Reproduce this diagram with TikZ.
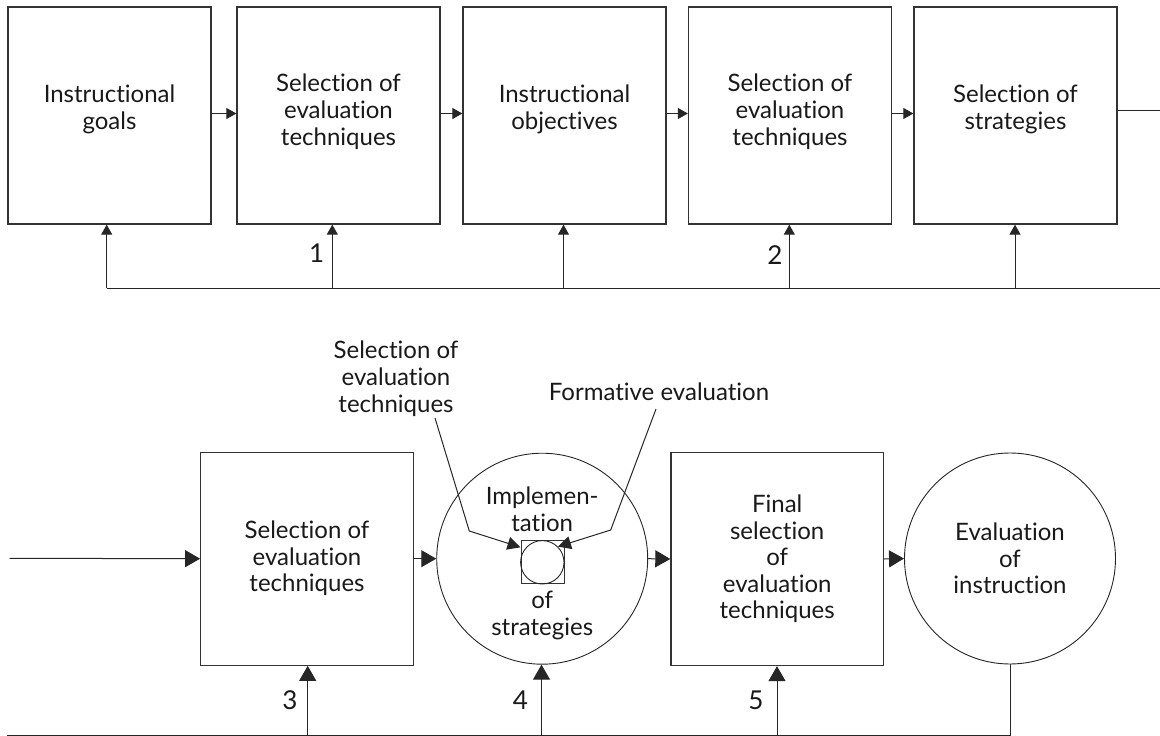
\documentclass[tikz,border=0pt]{standalone}
\usepackage{fontspec}
\setmainfont{Lato}[Ligatures={NoCommon}]
\usetikzlibrary{arrows.meta}
\begin{document}
\begin{tikzpicture}[x=1pt,y=-1pt,
  box/.style={rectangle, draw=black!80, line width=1.3pt, inner sep=0pt},
  topbox/.style={box, minimum width=203pt, minimum height=217pt},
  lowbox/.style={box, minimum width=212.5pt, minimum height=213pt, align=center,
                 font=\fontsize{24}{26.5}\selectfont, text=black!90},
  bigcirc/.style={circle, draw=black!85, line width=0.9pt, minimum size=211pt,
                  inner sep=0pt, align=center, font=\fontsize{24}{26.5}\selectfont, text=black!90},
  txt/.style={align=center, font=\fontsize{24}{27}\selectfont, text=black!90, inner sep=0pt},
  num/.style={font=\fontsize{26}{26}\selectfont, text=black!90, inner sep=0pt},
  conn/.style={line width=1pt, draw=black!85},
  sarrow/.style={conn, -{Triangle[length=10pt,width=11pt]}},
  barrow/.style={conn, -{Triangle[length=15pt,width=17pt]}},
  parrow/.style={conn, -{Triangle[length=13pt,width=13pt]}},
]
\useasboundingbox (0,0) rectangle (1160,736);

% ---------- upper chain ----------
\node[topbox] (b1) at (109.5,115.5) {};
\node[topbox] (b2) at (338.5,115.5) {};
\node[topbox] (b3) at (564.5,115.5) {};
\node[topbox] (b4) at (790,115.5) {};
\node[topbox] (b5) at (1015.5,115.5) {};

\node[txt] (t1) at (109.5,109) {Instructional\\goals};
\node[txt] (t2) at (338.5,111.5) {Selection of\\evaluation\\techniques};
\node[txt] (t3) at (564.5,109) {Instructional\\objectives};
\node[txt] (t4) at (790,111.5) {Selection of\\evaluation\\techniques};
\node[txt] (t5) at (1015.5,109) {Selection of\\strategies};

\draw[sarrow] ([yshift=2pt]b1.east) -- ([yshift=2pt]b2.west);
\draw[sarrow] ([yshift=2pt]b2.east) -- ([yshift=2pt]b3.west);
\draw[sarrow] ([yshift=2pt]b3.east) -- ([yshift=2pt]b4.west);
\draw[sarrow] ([yshift=2pt]b4.east) -- ([yshift=2pt]b5.west);

\coordinate (tr) at (1160,110);
\draw[conn] (b5.east |- tr) -- (tr);

% feedback line under the upper chain
\coordinate (f1) at (106.7,288.3);
\coordinate (f2) at (332.3,288.3);
\coordinate (f3) at (563.5,288.3);
\coordinate (f4) at (789.3,288.3);
\coordinate (f5) at (1015,288.3);
\coordinate (fr) at (1160,288.3);
\draw[conn] (f1) -- (fr);
\draw[sarrow] (f1) -- (f1 |- b1.south);
\draw[sarrow] (f2) -- (f2 |- b2.south);
\draw[sarrow] (f3) -- (f3 |- b3.south);
\draw[sarrow] (f4) -- (f4 |- b4.south);
\draw[sarrow] (f5) -- (f5 |- b5.south);

\node[num] (n1) at (316.7,253) {1};
\node[num] (n2) at (775,255) {2};

% ---------- lower chain ----------
\node[lowbox] (s3) at (307,558.7) {Selection of\\evaluation\\techniques};
\node[bigcirc] (imp) at (542.2,558.7) {};
\node[txt] (impt) at (542.2,509) {Implemen-\\tation};
\node[txt] (imps) at (542.2,615) {of\\strategies};
\node[rectangle, draw=black!80, line width=1pt, minimum size=43pt, inner sep=0pt] (sq) at (542.5,562.3) {};
\node[circle, draw=black!85, line width=0.9pt, minimum size=43.4pt, inner sep=0pt] (sc) at (542.3,562.3) {};
\node[lowbox] (fin) at (777.2,559) {Final\\selection\\of\\evaluation\\techniques};
\node[bigcirc] (evi) at (1010,558.5) {Evaluation\\of\\instruction};

\coordinate (in) at (9.6,558.3);
\draw[barrow] (in) -- (s3.west);
\draw[barrow] (s3.east) -- (imp.west);
\draw[barrow] (imp.east) -- (fin.west);
\draw[barrow] (fin.east) -- (evi.west);

% feedback line under the lower chain
\coordinate (bl) at (7.3,735);
\coordinate (g3) at (307.7,735);
\coordinate (g4) at (541.5,735);
\coordinate (g5) at (777,735);
\draw[conn] (evi.south) |- (bl);
\draw[barrow] (g3) -- (g3 |- s3.south);
\draw[barrow] (g4) -- (g4 |- imp.south);
\draw[barrow] (g5) -- (g5 |- fin.south);

\node[num] (n3) at (290,700) {3};
\node[num] (n4) at (520.5,700) {4};
\node[num] (n5) at (756,700) {5};

% callouts into the implementation step
\node[txt] (lsel) at (396,379) {Selection of\\evaluation\\techniques};
\node[txt] (lform) at (659,392) {Formative evaluation};
\coordinate (p1) at (435,418);
\coordinate (k1) at (469.3,531);
\coordinate (p2) at (656,409);
\coordinate (k2) at (610.7,530);
\draw[parrow] (p1) -- (k1) -- ([yshift=-7pt]sq.north west);
\draw[parrow] (p2) -- (k2) -- (sc.45);
\end{tikzpicture}
\end{document}
